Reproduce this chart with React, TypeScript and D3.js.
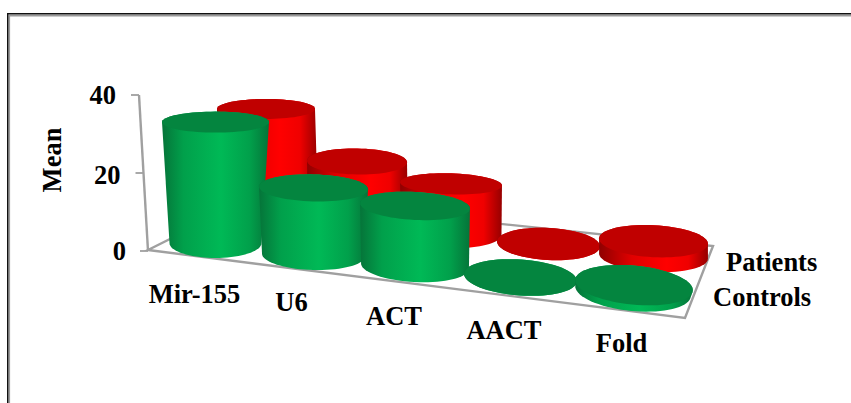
import React from "react";
import * as d3 from "d3";

const categories = ["Mir-155", "U6", "ACT", "AACT", "Fold"];
const controls = [31, 17.2, 15.4, 0, 1.5];
const patients = [25.4, 15, 12.6, 0, 3.8];
const yTicks = [0, 20, 40];

const W = 851;
const H = 403;
const idx = categories.map((_, i) => i);
const piecewise = (range: number[]) => d3.scaleLinear<number>().domain(idx).range(range);

// Value axis leans inward, so both ends of it move with the value.
const axisY = d3.scaleLinear().domain([0, 40]).range([251, 95]);
const axisX = d3.scaleLinear().domain([0, 40]).range([148, 139]);
const unitHeight = axisY(0) - axisY(1);

// Perspective layout of each depth row along the category axis.
const frontRow = {
  name: "green",
  values: controls,
  cx: piecewise([215.5, 313.5, 415, 520.5, 633]),
  topCx: piecewise([215.5, 313.5, 415, 520.5, 634]),
  baseCy: piecewise([243, 255, 266, 277.5, 291]),
  baseRx: piecewise([46, 51.5, 54, 56.5, 58]),
  topRx: piecewise([53.5, 54.5, 55, 56.5, 59]),
  baseRy: piecewise([15, 15, 16, 18, 20]),
  topRy: piecewise([10.5, 13.5, 14, 18, 19.5]),
  tilt: piecewise([0, 1.5, 3, 4, 5.5]),
};
const backRow = {
  name: "red",
  values: patients,
  cx: piecewise([268, 358, 451.5, 548.5, 653.5]),
  topCx: piecewise([266, 357, 451, 548.5, 653.5]),
  baseCy: piecewise([208, 220, 233, 244, 256]),
  baseRx: piecewise([50, 50, 50, 51.5, 54.5]),
  topRx: piecewise([49, 50, 51, 51.5, 54.5]),
  baseRy: piecewise([12, 13, 15, 16, 16]),
  topRy: piecewise([10, 13, 10.5, 16, 16]),
  tilt: piecewise([0, 1, 2, 3, 3]),
};

const labelX = piecewise([194.5, 291.5, 394, 504, 621.5]);
const labelY = piecewise([303, 311, 325, 339, 352]);

const floorCorners: [number, number][] = [
  [252, 198],
  [713, 246],
  [685, 318],
  [148, 250],
];

const ellipsePts = (cx: number, cy: number, rx: number, ry: number, deg: number) => {
  const a = (deg * Math.PI) / 180;
  return d3.range(0, 72).map((k): [number, number] => {
    const t = (k / 72) * 2 * Math.PI;
    const x = rx * Math.cos(t);
    const y = ry * Math.sin(t);
    return [cx + x * Math.cos(a) - y * Math.sin(a), cy + x * Math.sin(a) + y * Math.cos(a)];
  });
};
const closed = d3.line().curve(d3.curveLinearClosed);

function Cylinder({ row, i }: { row: typeof frontRow; i: number }) {
  const v = row.values[i];
  const baseCy = row.baseCy(i);
  const topCy = baseCy - v * unitHeight;
  const tilt = row.tilt(i);
  const top = ellipsePts(row.topCx(i), topCy, row.topRx(i), row.topRy(i), tilt);
  const base = ellipsePts(row.cx(i), baseCy, row.baseRx(i), row.baseRy(i), tilt);
  const hull = d3.polygonHull([...top, ...base]) as [number, number][];
  return (
    <g>
      <path d={closed(hull) as string} fill={`url(#side-${row.name})`} />
      <path d={closed(top) as string} fill={row.name === "green" ? "#04853f" : "#c00000"} />
    </g>
  );
}

const labelStyle: React.CSSProperties = {
  fontFamily: "'Liberation Serif', serif",
  fontWeight: 700,
  fontSize: 26.5,
  fill: "#000",
};

export default function App() {
  return (
    <svg
      width={W}
      height={H}
      viewBox={`0 0 ${W} ${H}`}
      style={{ position: "absolute", left: 0, top: 0, background: "#fff" }}
    >
      <defs>
        <linearGradient id="side-green" x1="0" x2="1" y1="0" y2="0">
          <stop offset="0" stopColor="#057439" />
          <stop offset="0.2" stopColor="#01a04b" />
          <stop offset="0.55" stopColor="#00b956" />
          <stop offset="0.82" stopColor="#01a04b" />
          <stop offset="1" stopColor="#057439" />
        </linearGradient>
        <linearGradient id="side-red" x1="0" x2="1" y1="0" y2="0">
          <stop offset="0" stopColor="#8f0000" />
          <stop offset="0.3" stopColor="#e00000" />
          <stop offset="0.62" stopColor="#ff0000" />
          <stop offset="0.82" stopColor="#f00000" />
          <stop offset="1" stopColor="#960000" />
        </linearGradient>
      </defs>

      {/* panel frame, open at the right and bottom */}
      <path d={`M9.2,${H} V15.6 H${W}`} fill="none" stroke="#999" strokeWidth={1.8} />
      <path d={`M7.7,${H} V13.8 H${W}`} fill="none" stroke="#111" strokeWidth={1.4} />

      {/* floor outline and value axis */}
      <path d={closed(floorCorners) as string} fill="none" stroke="#a0a0a0" strokeWidth={2.4} />
      <line
        x1={axisX(0)}
        y1={axisY(0)}
        x2={axisX(40)}
        y2={axisY(40)}
        stroke="#a0a0a0"
        strokeWidth={2.4}
      />
      {yTicks.map((t) => (
        <g key={t}>
          <line
            x1={axisX(t) - 8}
            x2={axisX(t)}
            y1={axisY(t)}
            y2={axisY(t)}
            stroke="#a0a0a0"
            strokeWidth={1.8}
          />
          <text
            x={axisX(t) - (t === 0 ? 22 : 23)}
            y={axisY(t) + (t === 20 ? 11 : 9)}
            textAnchor="end"
            style={labelStyle}
          >
            {t}
          </text>
        </g>
      ))}

      {[backRow, frontRow].map((row) =>
        idx.map((i) => <Cylinder key={`${row.name}-${i}`} row={row} i={i} />)
      )}

      {categories.map((c, i) => (
        <text key={c} x={labelX(i)} y={labelY(i)} textAnchor="middle" style={labelStyle}>
          {c}
        </text>
      ))}

      <text x={726} y={271} style={labelStyle}>Patients</text>
      <text x={713} y={306} style={labelStyle}>Controls</text>
      <text transform="translate(61,160) rotate(-90)" textAnchor="middle" style={labelStyle}>
        Mean
      </text>
    </svg>
  );
}
